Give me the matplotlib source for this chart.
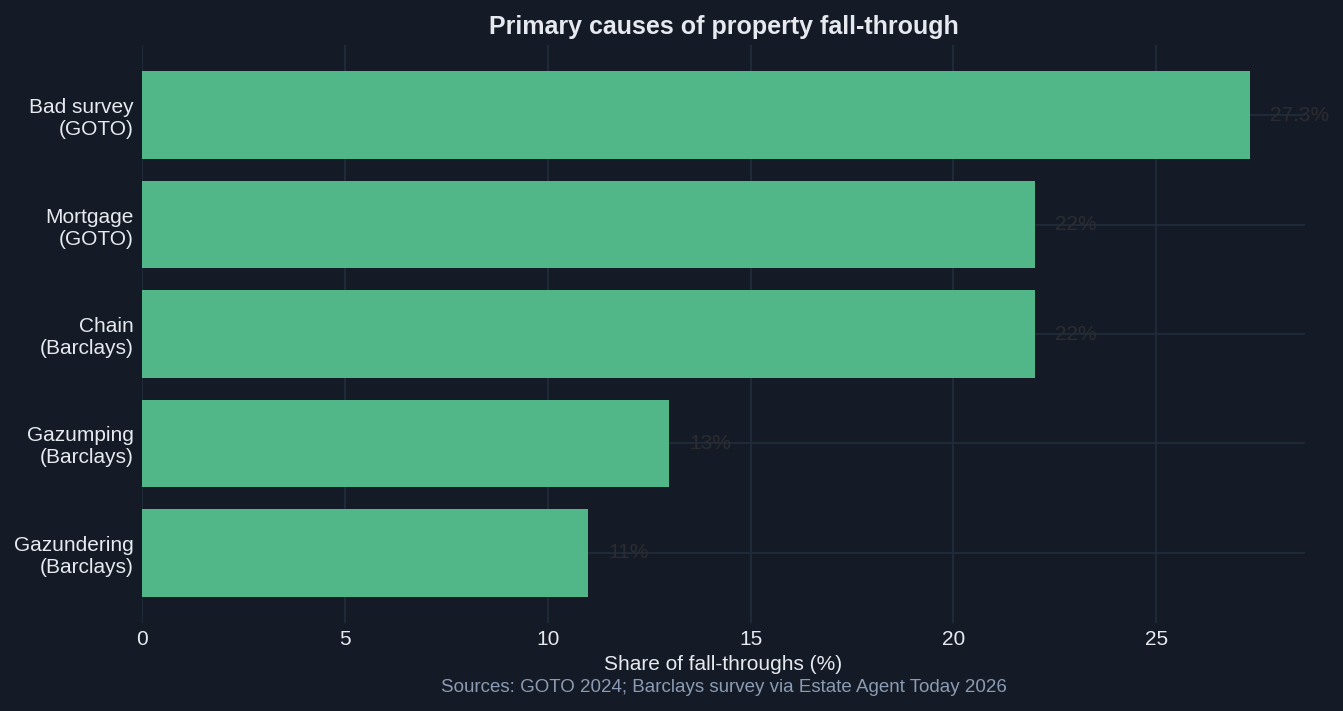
import matplotlib.pyplot as plt
import numpy as np

plt.rcParams['font.family'] = ['Liberation Sans', 'DejaVu Sans']

# data (bottom to top as drawn)
causes = ["Gazundering\n(Barclays)", "Gazumping\n(Barclays)", "Chain\n(Barclays)",
          "Mortgage\n(GOTO)", "Bad survey\n(GOTO)"]
shares = [11, 13, 22, 22, 27.3]
value_labels = ["11%", "13%", "22%", "22%", "27.3%"]

bg = "#151b26"
bar_color = "#52b788"

fig = plt.figure(figsize=(13.43, 7.11), dpi=100, facecolor=bg)
ax = fig.add_axes([142 / 1343, 1 - 623 / 711, (1305 - 142) / 1343, (623 - 45) / 711])
ax.set_facecolor(bg)

y = np.arange(len(causes))
ax.barh(y, shares, height=0.8, color=bar_color, zorder=2)
ax.set_xlim(0, max(shares) * 1.05)

for yi, v, lab in zip(y, shares, value_labels):
    ax.text(v + 0.5, yi, lab, va="center", ha="left", fontsize=15, color="#2b2d30", zorder=3)

ax.set_yticks(y)
ax.set_yticklabels(causes, fontsize=15, color="#e6e9ef")
ax.set_xticks([0, 5, 10, 15, 20, 25])
ax.tick_params(axis="x", labelsize=15, colors="#e6e9ef", length=0, pad=5)
ax.tick_params(axis="y", length=0, pad=6)
ax.grid(True, color="#1f2a38", linewidth=1.5, zorder=0)
ax.set_axisbelow(True)
for s in ax.spines.values():
    s.set_visible(False)

ax.set_xlabel("Share of fall-throughs (%)", fontsize=15, color="#e6e9ef", labelpad=4)
ax.set_title("Primary causes of property fall-through", fontsize=18, fontweight="bold",
             color="#e6e9ef", pad=8)
fig.text((142 + 1305) / 2 / 1343, 1 - 687 / 711,
         "Sources: GOTO 2024; Barclays survey via Estate Agent Today 2026",
         ha="center", va="center", fontsize=13.5, color="#8a9bb3")

fig.savefig("out.png", dpi=100, facecolor=bg)
